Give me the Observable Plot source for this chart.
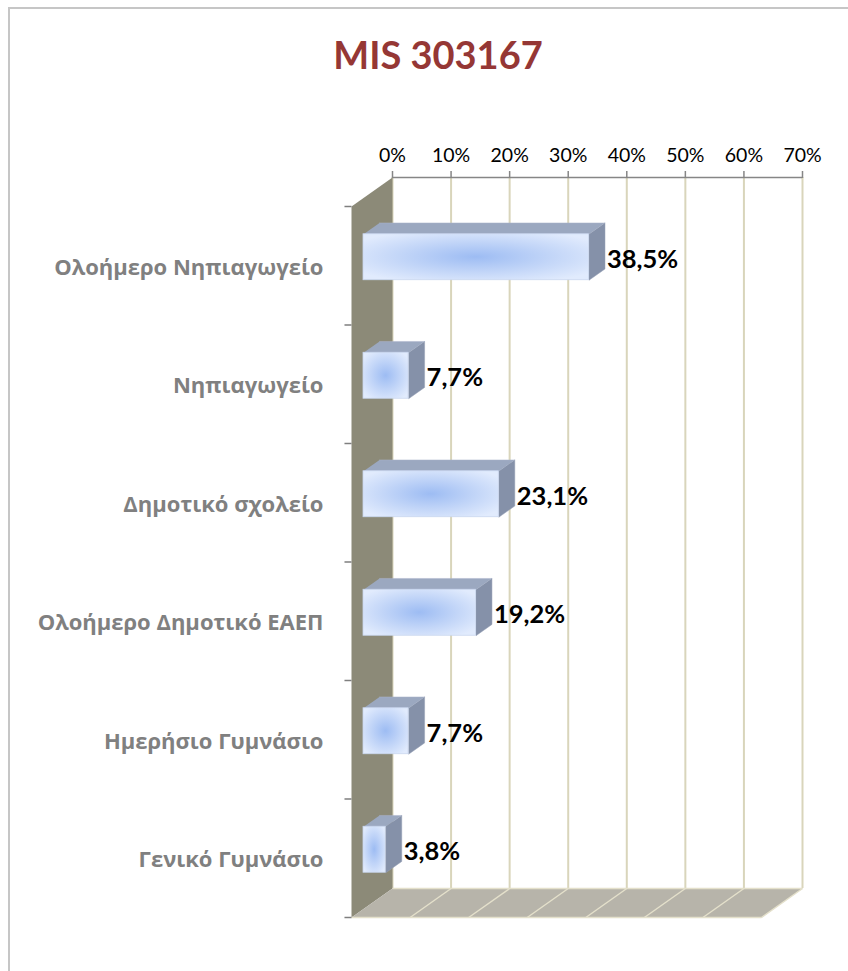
<!DOCTYPE html>
<html><head><meta charset="utf-8">
<script src="https://cdn.jsdelivr.net/npm/d3@7"></script>
<script src="https://cdn.jsdelivr.net/npm/@observablehq/plot@0.6"></script>
<style>
html,body{margin:0;padding:0;background:#fff}
body{width:848px;height:971px;overflow:hidden;position:relative}
#frame{position:absolute;left:8px;top:7px;width:1000px;height:1100px;border-left:2px solid #c6c6c6;border-top:2px solid #c6c6c6;pointer-events:none}
#title{height:100px;box-sizing:border-box;padding-left:28px;text-align:center;font-family:Lato,sans-serif;font-weight:bold;font-size:38px;color:#953735;line-height:109px;white-space:nowrap}
#chart{position:relative}
</style>
</head><body>
<div id="frame"></div>
<div id="title">MIS 303167</div>
<div id="chart"></div>
<script>
// ---- data ----
const categories = ["Ολοήμερο Νηπιαγωγείο", "Νηπιαγωγείο", "Δημοτικό σχολείο", "Ολοήμερο Δημοτικό ΕΑΕΠ", "Ημερήσιο Γυμνάσιο", "Γενικό Γυμνάσιο"];
const values = [0.385, 0.077, 0.231, 0.192, 0.077, 0.038];
const valueLabels = ["38,5%", "7,7%", "23,1%", "19,2%", "7,7%", "3,8%"];
const tickValues = [0, 0.1, 0.2, 0.3, 0.4, 0.5, 0.6, 0.7];
const tickLabels = ["0%", "10%", "20%", "30%", "40%", "50%", "60%", "70%"];

// ---- 3D projection (depth t: 0 = back wall, 1 = front edge) ----
const kx = 0.07;      // x shift (data units) per unit depth
const ky = 0.2447;    // y shift (band units) per unit depth
const tBack = 0.317, tFront = 0.707; // bar depth
const half = 0.194;   // half bar thickness (band units)
const xMax = 0.7, nCat = categories.length;
const proj = (x, y, t) => ({x: x - kx * t, y: y + ky * t});

const bars = categories.map((c, i) => ({cat: c, i, value: values[i], label: valueLabels[i]}));

const leftWall = [proj(0,0,0), proj(0,nCat,0), proj(0,nCat,1), proj(0,0,1)];
const floor = [proj(0,nCat,0), proj(xMax,nCat,0), proj(xMax,nCat,1), proj(0,nCat,1)];
const floorEdges = [
  {a: proj(0,nCat,0), b: proj(xMax,nCat,0)},
  {a: proj(0,nCat,1), b: proj(xMax,nCat,1)},
  ...tickValues.slice(1).map(v => ({a: proj(v,nCat,0), b: proj(v,nCat,1)}))
];
const wallTicks = d3.range(nCat + 1).map(k => proj(0, k, 1));

const topFaces = bars.flatMap(d => {
  const y = d.i + 0.5 - half;
  return [proj(0,y,tFront), proj(d.value,y,tFront), proj(d.value,y,tBack), proj(0,y,tBack)].map(p => ({...p, id: d.i}));
});
const sideFaces = bars.flatMap(d => {
  const y1 = d.i + 0.5 - half, y2 = d.i + 0.5 + half;
  return [proj(d.value,y1,tFront), proj(d.value,y2,tFront), proj(d.value,y2,tBack), proj(d.value,y1,tBack)].map(p => ({...p, id: d.i}));
});

const chart = Plot.plot({
  width: 848, height: 871,
  marginTop: 77, marginBottom: 83, marginLeft: 392, marginRight: 46,
  x: {domain: [0, xMax]},
  y: {domain: [0, nCat], reverse: true, axis: null},
  style: {fontFamily: "Lato, sans-serif", background: "transparent", overflow: "visible"},
  marks: [
    // back wall grid
    Plot.ruleX(tickValues, {y1: 0, y2: nCat, stroke: "#d9d5bb", strokeWidth: 2}),
    // left wall and floor
    Plot.line(leftWall, {x: "x", y: "y", fill: "#8c8a78", stroke: "none"}),
    Plot.line(floor, {x: "x", y: "y", fill: "#b7b4aa", stroke: "none"}),
    Plot.link(floorEdges, {x1: d => d.a.x, y1: d => d.a.y, x2: d => d.b.x, y2: d => d.b.y, stroke: "#e4e0cb", strokeWidth: 1.5}),
    // top axis
    Plot.ruleY([0], {x1: 0, x2: xMax, stroke: "#868686", strokeWidth: 1.5}),
    Plot.axisX(tickValues, {anchor: "top", tickSize: 7, tickPadding: 9, tickFormat: (d, i) => tickLabels[i],
      stroke: "#868686", fill: "#000", fontSize: 19.5, strokeWidth: 1.5}),
    // ticks on the front edge of the left wall
    Plot.link(wallTicks, {x1: d => d.x - 0.012, x2: d => d.x, y1: "y", y2: "y", stroke: "#7f7f7f", strokeWidth: 1.5}),
    // category labels
    Plot.text(categories, {x: 0, y: (d, i) => i + 0.5, text: d => d, textAnchor: "end", dx: -69, dy: 31,
      fill: "#808080", fontWeight: "bold", fontSize: 22, fontFamily: "Open Sans"}),
    // bars
    Plot.line(topFaces, {x: "x", y: "y", z: "id", fill: "#9ba8c0", stroke: "#aab5ca", strokeWidth: 0.5}),
    Plot.line(sideFaces, {x: "x", y: "y", z: "id", fill: "#8591a9", stroke: "#96a1b7", strokeWidth: 0.5}),
    Plot.rect(bars, {
      x1: -kx * tFront, x2: d => d.value - kx * tFront,
      y1: d => d.i + 0.5 - half + ky * tFront, y2: d => d.i + 0.5 + half + ky * tFront,
      fill: "url(#barFront)", stroke: "#c9d6ee", strokeWidth: 0.8
    }),
    Plot.text(bars, {x: "value", y: d => d.i + 0.5, text: "label", textAnchor: "start", dx: -11, dy: 23,
      fill: "#000", fontWeight: "bold", fontSize: 25.5})
  ]
});

const svg = d3.select(chart);
const defs = svg.insert("defs", ":first-child");
const g = defs.append("radialGradient").attr("id", "barFront").attr("cx", "0.5").attr("cy", "0.5").attr("r", "0.62");
g.append("stop").attr("offset", "0%").attr("stop-color", "#9dbcf3");
g.append("stop").attr("offset", "55%").attr("stop-color", "#c3d6f8");
g.append("stop").attr("offset", "100%").attr("stop-color", "#e1ebfd");

document.getElementById("chart").appendChild(chart);
</script>
</body></html>
